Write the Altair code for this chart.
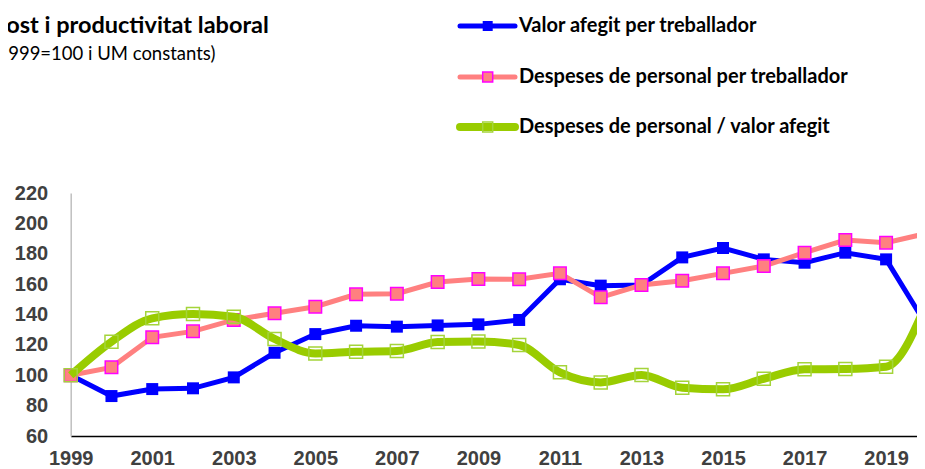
import altair as alt
import pandas as pd

years = list(range(1999, 2021))
valor_afegit = [100, 86.3, 90.9, 91.4, 98.6, 114.8, 127.1, 132.6, 132.0, 132.8, 133.5, 136.4,
                163.2, 159.0, 159.4, 177.6, 183.8, 176.3, 174.1, 180.7, 176.3, 132.5]
despeses_treb = [100, 105.2, 125.0, 128.9, 136.4, 140.8, 145.1, 153.3, 153.7, 161.4, 163.4, 163.2,
                 167.1, 151.3, 159.4, 162.2, 167.1, 171.9, 180.7, 189.0, 187.3, 193.4]
despeses_va = [100, 122.1, 137.5, 140.3, 138.5, 123.9, 114.4, 115.5, 116.0, 121.9, 122.3, 119.9,
               101.9, 95.3, 100.2, 91.8, 90.7, 97.7, 103.9, 104.1, 105.6, 148.0]

series_names = ["Valor afegit per treballador",
                "Despeses de personal per treballador",
                "Despeses de personal / valor afegit"]
series_values = [valor_afegit, despeses_treb, despeses_va]

title_text = "Cost i productivitat laboral"
subtitle_text = "(1999=100 i UM constants)"

x_ticks = list(range(1999, 2020, 2))
y_ticks = list(range(60, 221, 20))

rows = []
for name, vals in zip(series_names, series_values):
    for yr, v in zip(years, vals):
        rows.append({"year": yr, "value": v, "series": name})
df = pd.DataFrame(rows)

styles = [
    dict(line="#0000FF", width=5, pfill="#0000FF", pstroke="#0000FF", psw=0, size=144, filled=True, interp="linear"),
    dict(line="#FF8080", width=5, pfill="#FF8080", pstroke="#FF00FF", psw=1.5, size=156, filled=True, interp="linear"),
    dict(line="#99CC00", width=8, pfill="#FFFFFF", pstroke="#A4D43A", psw=1.5, size=169, filled=False, interp="monotone"),
]

PLOT_W = 846.3
X_MAX = 1999 + PLOT_W / 40.77

x_enc = alt.X("year:Q",
              scale=alt.Scale(domain=[1999, X_MAX], nice=False, zero=False),
              axis=alt.Axis(values=x_ticks, format="d", title=None, ticks=False, grid=False,
                            labelFont="Liberation Sans", labelFontSize=20, labelFontWeight="bold",
                            labelColor="#404040", labelPadding=12, labelFlush=False,
                            labelOverlap=False, domainColor="#000000", domainWidth=1.3))
y_enc = alt.Y("value:Q",
              scale=alt.Scale(domain=[60, 220], nice=False, zero=False),
              axis=alt.Axis(values=y_ticks, title=None, ticks=False, grid=False,
                            labelFont="Liberation Sans", labelFontSize=20, labelFontWeight="bold",
                            labelColor="#404040", labelPadding=23, labelOverlap=False,
                            domainColor="#BFBFBF", domainWidth=1.5))

layers = []
legend_y = [-167, -116, -66]
for name, st in zip(series_names, styles):
    base = alt.Chart(df).transform_filter(alt.datum.series == name)
    layers.append(base.mark_line(color=st["line"], strokeWidth=st["width"],
                                 interpolate=st["interp"]).encode(x=x_enc, y=y_enc))
    layers.append(base.mark_point(shape="square", filled=st["filled"], fill=st["pfill"],
                                  stroke=st["pstroke"], strokeWidth=st["psw"], size=st["size"],
                                  opacity=1, fillOpacity=1 if st["filled"] else 0)
                  .encode(x=x_enc, y=y_enc))

# legend (drawn by hand to match the line+marker symbols)
for name, st, ly in zip(series_names, styles, legend_y):
    ldf = pd.DataFrame({"series": [name]})
    lb = alt.Chart(ldf)
    layers.append(lb.mark_rule(color=st["line"], strokeWidth=st["width"], strokeCap="round")
                  .encode(x=alt.value(389.3), x2=alt.value(444.3), y=alt.value(ly)))
    layers.append(lb.mark_point(shape="square", filled=st["filled"], fill=st["pfill"],
                                stroke=st["pstroke"], strokeWidth=st["psw"], size=100,
                                opacity=1, fillOpacity=1 if st["filled"] else 0)
                  .encode(x=alt.value(417), y=alt.value(ly)))
    layers.append(lb.mark_text(align="left", baseline="middle", font="Lato", fontSize=20,
                               fontWeight="bold", color="#000000")
                  .encode(text="series:N", x=alt.value(448.3), y=alt.value(ly)))

tdf = pd.DataFrame({"t": [title_text]})
layers.append(alt.Chart(tdf).mark_text(align="left", baseline="alphabetic", font="Lato",
                                       fontSize=23.5, fontWeight="bold", color="#000000")
              .encode(text="t:N", x=alt.value(-79.8), y=alt.value(-159.7)))
sdf = pd.DataFrame({"t": [subtitle_text]})
layers.append(alt.Chart(sdf).mark_text(align="left", baseline="alphabetic", font="Lato",
                                       fontSize=18.5, color="#000000")
              .encode(text="t:N", x=alt.value(-78.2), y=alt.value(-133)))

chart = alt.layer(*layers).properties(
    width=PLOT_W, height=243,
    padding={"left": 62.7, "top": 185, "right": 0, "bottom": 33},
    autosize=alt.AutoSizeParams(type="none"),
    background="#FFFFFF",
).configure_view(stroke=None)

chart.save("out.html", embed_options={"renderer": "svg", "actions": False})
